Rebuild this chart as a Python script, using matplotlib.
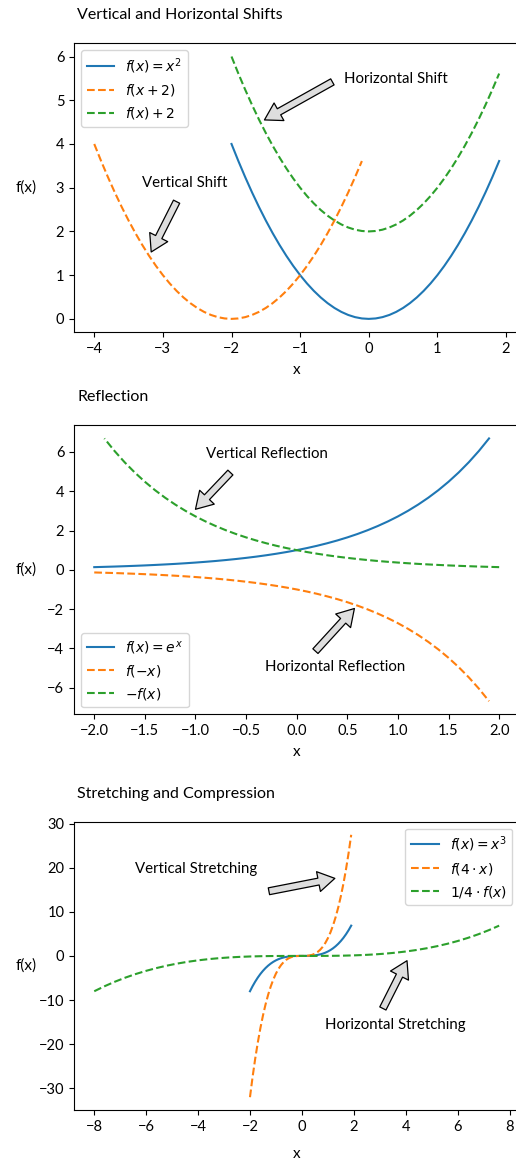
import matplotlib
matplotlib.use("Agg")
import matplotlib.pyplot as plt

plt.rcParams['font.family'] = ['Lato', 'DejaVu Sans']
plt.rcParams['mathtext.fontset'] = 'dejavusans'
plt.rcParams['font.size'] = 10.5
plt.rcParams['legend.fontsize'] = 10

# ---------------- data ----------------
x_base = [-2.0, -1.9, -1.8, -1.7, -1.6, -1.5, -1.4, -1.3, -1.2, -1.1,
          -1.0, -0.9, -0.8, -0.7, -0.6, -0.5, -0.4, -0.3, -0.2, -0.1,
          0.0, 0.1, 0.2, 0.3, 0.4, 0.5, 0.6, 0.7, 0.8, 0.9,
          1.0, 1.1, 1.2, 1.3, 1.4, 1.5, 1.6, 1.7, 1.8, 1.9]
x_left_shift = [-4.0, -3.9, -3.8, -3.7, -3.6, -3.5, -3.4, -3.3, -3.2, -3.1,
                -3.0, -2.9, -2.8, -2.7, -2.6, -2.5, -2.4, -2.3, -2.2, -2.1,
                -2.0, -1.9, -1.8, -1.7, -1.6, -1.5, -1.4, -1.3, -1.2, -1.1,
                -1.0, -0.9, -0.8, -0.7, -0.6, -0.5, -0.4, -0.3, -0.2, -0.1]
y_square = [4.0, 3.61, 3.24, 2.89, 2.56, 2.25, 1.96, 1.69, 1.44, 1.21,
            1.0, 0.81, 0.64, 0.49, 0.36, 0.25, 0.16, 0.09, 0.04, 0.01,
            0.0, 0.01, 0.04, 0.09, 0.16, 0.25, 0.36, 0.49, 0.64, 0.81,
            1.0, 1.21, 1.44, 1.69, 1.96, 2.25, 2.56, 2.89, 3.24, 3.61]
y_square_up = [6.0, 5.61, 5.24, 4.89, 4.56, 4.25, 3.96, 3.69, 3.44, 3.21,
               3.0, 2.81, 2.64, 2.49, 2.36, 2.25, 2.16, 2.09, 2.04, 2.01,
               2.0, 2.01, 2.04, 2.09, 2.16, 2.25, 2.36, 2.49, 2.64, 2.81,
               3.0, 3.21, 3.44, 3.69, 3.96, 4.25, 4.56, 4.89, 5.24, 5.61]

x_mirror = [2.0, 1.9, 1.8, 1.7, 1.6, 1.5, 1.4, 1.3, 1.2, 1.1,
            1.0, 0.9, 0.8, 0.7, 0.6, 0.5, 0.4, 0.3, 0.2, 0.1,
            0.0, -0.1, -0.2, -0.3, -0.4, -0.5, -0.6, -0.7, -0.8, -0.9,
            -1.0, -1.1, -1.2, -1.3, -1.4, -1.5, -1.6, -1.7, -1.8, -1.9]
y_exp = [0.135, 0.150, 0.165, 0.183, 0.202, 0.223, 0.247, 0.273, 0.301, 0.333,
         0.368, 0.407, 0.449, 0.497, 0.549, 0.607, 0.670, 0.741, 0.819, 0.905,
         1.000, 1.105, 1.221, 1.350, 1.492, 1.649, 1.822, 2.014, 2.226, 2.460,
         2.718, 3.004, 3.320, 3.669, 4.055, 4.482, 4.953, 5.474, 6.050, 6.686]
y_exp_neg = [-0.135, -0.150, -0.165, -0.183, -0.202, -0.223, -0.247, -0.273, -0.301, -0.333,
             -0.368, -0.407, -0.449, -0.497, -0.549, -0.607, -0.670, -0.741, -0.819, -0.905,
             -1.000, -1.105, -1.221, -1.350, -1.492, -1.649, -1.822, -2.014, -2.226, -2.460,
             -2.718, -3.004, -3.320, -3.669, -4.055, -4.482, -4.953, -5.474, -6.050, -6.686]

x_wide = [-8.0, -7.6, -7.2, -6.8, -6.4, -6.0, -5.6, -5.2, -4.8, -4.4,
          -4.0, -3.6, -3.2, -2.8, -2.4, -2.0, -1.6, -1.2, -0.8, -0.4,
          0.0, 0.4, 0.8, 1.2, 1.6, 2.0, 2.4, 2.8, 3.2, 3.6,
          4.0, 4.4, 4.8, 5.2, 5.6, 6.0, 6.4, 6.8, 7.2, 7.6]
y_cube = [-8.0, -6.859, -5.832, -4.913, -4.096, -3.375, -2.744, -2.197, -1.728, -1.331,
          -1.0, -0.729, -0.512, -0.343, -0.216, -0.125, -0.064, -0.027, -0.008, -0.001,
          0.0, 0.001, 0.008, 0.027, 0.064, 0.125, 0.216, 0.343, 0.512, 0.729,
          1.0, 1.331, 1.728, 2.197, 2.744, 3.375, 4.096, 4.913, 5.832, 6.859]
y_cube_steep = [-32.0, -27.436, -23.328, -19.652, -16.384, -13.5, -10.976, -8.788, -6.912, -5.324,
                -4.0, -2.916, -2.048, -1.372, -0.864, -0.5, -0.256, -0.108, -0.032, -0.004,
                0.0, 0.004, 0.032, 0.108, 0.256, 0.5, 0.864, 1.372, 2.048, 2.916,
                4.0, 5.324, 6.912, 8.788, 10.976, 13.5, 16.384, 19.652, 23.328, 27.436]

titles = ["Vertical and Horizontal Shifts", "Reflection", "Stretching and Compression"]
labels_top = [r"$f(x) = x^2$", r"$f(x + 2)$", r"$f(x) + 2$"]
labels_mid = [r"$f(x) = e^x$", r"$f(-x)$", r"$-f(x)$"]
labels_bot = [r"$f(x) = x^3$", r"$f(4 \cdot x)$", r"$1/4 \cdot f(x)$"]

# ---------------- figure ----------------
W, H = 516, 1163
fig = plt.figure(figsize=(W / 100, H / 100), dpi=100)

def add_ax(top_px, bottom_px, left_px=74.0, right_px=519.4):
    return fig.add_axes([left_px / W, 1 - bottom_px / H,
                         (right_px - left_px) / W, (bottom_px - top_px) / H])

ax1 = add_ax(43.4, 332.0)
ax2 = add_ax(425.3, 714.3)
ax3 = add_ax(821.7, 1110.3)

arrow_kw = dict(facecolor='#dedede', edgecolor='black', shrink=0.0,
                width=5, headwidth=14.5, headlength=12, linewidth=0.9)

def arrow(ax, tail, tip):
    ax.annotate('', xy=tip, xytext=tail, arrowprops=arrow_kw)

ann_fs = 10.8

# Top panel
ax1.plot(x_base, y_square, '-', color='C0', label=labels_top[0])
ax1.plot(x_left_shift, y_square, '--', color='C1', label=labels_top[1])
ax1.plot(x_base, y_square_up, '--', color='C2', label=labels_top[2])
ax1.legend(loc='upper left')
ax1.text(-0.365, 5.40, "Horizontal Shift", fontsize=ann_fs)
arrow(ax1, (-0.53, 5.42), (-1.52, 4.55))
ax1.text(-3.30, 3.02, "Vertical Shift", fontsize=ann_fs)
arrow(ax1, (-2.80, 2.68), (-3.17, 1.53))

# Middle panel
ax2.plot(x_base, y_exp, '-', color='C0', label=labels_mid[0])
ax2.plot(x_base, y_exp_neg, '--', color='C1', label=labels_mid[1])
ax2.plot(x_mirror, y_exp, '--', color='C2', label=labels_mid[2])
ax2.legend(loc='lower left')
ax2.text(-0.90, 5.71, "Vertical Reflection", fontsize=ann_fs)
arrow(ax2, (-0.655, 4.95), (-1.0, 3.08))
ax2.text(-0.31, -5.15, "Horizontal Reflection", fontsize=ann_fs)
arrow(ax2, (0.185, -4.14), (0.57, -1.97))

# Bottom panel
ax3.plot(x_base, y_cube, '-', color='C0', label=labels_bot[0])
ax3.plot(x_base, y_cube_steep, '--', color='C1', label=labels_bot[1])
ax3.plot(x_wide, y_cube, '--', color='C2', label=labels_bot[2])
ax3.legend(loc='upper right')
ax3.text(-6.43, 18.7, "Vertical Stretching", fontsize=ann_fs)
arrow(ax3, (-1.27, 14.65), (1.27, 17.57))
ax3.text(0.89, -16.5, "Horizontal Stretching", fontsize=ann_fs)
arrow(ax3, (3.12, -11.9), (4.05, -1.08))

xlabel_offsets = [37.5, 37.5, 44.0]
for ax, title, h, xoff in zip([ax1, ax2, ax3], titles, [288.6, 289.0, 288.6], xlabel_offsets):
    ax.spines['right'].set_visible(False)
    ax.text(0.007, 1 + 24.0 / h, title, transform=ax.transAxes,
            ha='left', va='baseline', fontsize=11.5)
    ax.set_xlabel('x', va='center', fontsize=11)
    ax.xaxis.set_label_coords(0.5, -xoff / h)
    ax.set_ylabel('f(x)', rotation=0, ha='center', va='center', fontsize=11)
    ax.yaxis.set_label_coords(-48.0 / 445.4, 0.5)

fig.savefig('out.png', dpi=100)
